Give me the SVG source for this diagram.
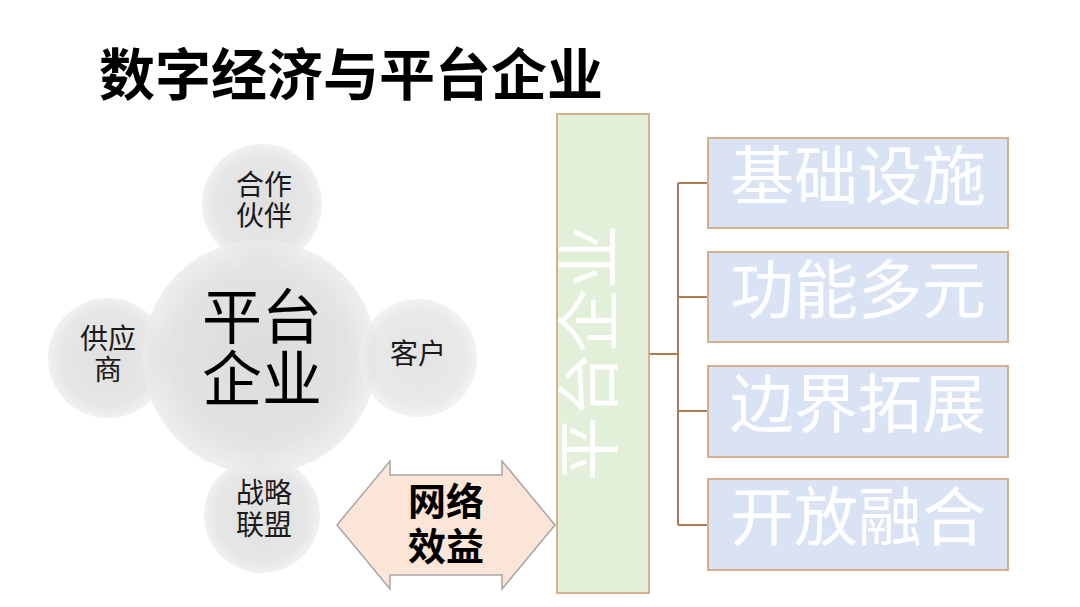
<svg xmlns="http://www.w3.org/2000/svg" width="1080" height="607" viewBox="0 0 1080 607">
<defs>
<radialGradient id="gc" cx="0.5" cy="0.5" r="0.5">
<stop offset="0" stop-color="#d6d6d6"/>
<stop offset="0.75" stop-color="#dedede"/>
<stop offset="1" stop-color="#ececec"/>
</radialGradient>
<radialGradient id="gs" cx="0.5" cy="0.5" r="0.5">
<stop offset="0" stop-color="#dcdcdc"/>
<stop offset="0.8" stop-color="#e4e4e4"/>
<stop offset="1" stop-color="#efefef"/>
</radialGradient>
<style>
.cj{font-family:"Noto Sans CJK SC","Noto Sans CJK JP",sans-serif;text-anchor:middle}
.sm{font-size:28px;fill:#1a1a1a}
.bx{fill:#dae3f3;stroke:#d4b08e;stroke-width:2}
.bt{font-size:64px;fill:#ffffff}
.con{fill:none;stroke:#b07a52;stroke-width:2}
</style>
</defs>
<rect width="1080" height="607" fill="#ffffff"/>
<text x="351" y="95" class="cj" font-size="56" font-weight="bold" fill="#000">数字经济与平台企业</text>

<g id="n-partner"><circle cx="262" cy="204" r="60" fill="url(#gs)" opacity="0.9"/></g>
<g id="n-supplier"><circle cx="108" cy="358" r="60" fill="url(#gs)" opacity="0.9"/></g>
<g id="n-alliance"><circle cx="262" cy="515" r="58" fill="url(#gs)" opacity="0.9"/></g>
<g id="n-platform">
<circle cx="260" cy="357" r="117" fill="url(#gc)" opacity="0.85"/>
<text class="cj" font-size="60" fill="#000"><tspan x="262" y="339">平台</tspan><tspan x="262" y="401">企业</tspan></text>
</g>
<g id="n-customer"><circle cx="418" cy="358" r="59" fill="url(#gs)" opacity="0.8"/></g>
<g id="labels">
<text class="cj sm"><tspan x="264" y="195">合作</tspan><tspan x="264" y="226">伙伴</tspan></text>
<text class="cj sm"><tspan x="108" y="349">供应</tspan><tspan x="108" y="380">商</tspan></text>
<text x="418" y="364" class="cj sm">客户</text>
<text class="cj sm"><tspan x="264" y="503">战略</tspan><tspan x="264" y="535">联盟</tspan></text>
</g>

<g id="n-network">
<polygon points="337,525 390,461 390,475 502,475 502,461 555,525 502,589 502,575 390,575 390,589" fill="#fbe5d6" stroke="#a6a6a6" stroke-width="1.5"/>
<text class="cj" font-size="38" font-weight="bold" fill="#000"><tspan x="446" y="515">网络</tspan><tspan x="446" y="560">效益</tspan></text>
</g>

<g id="connectors">
<path class="con" d="M649,354 H678 M678,183 V525 M678,183 H708 M678,297 H708 M678,411 H708 M678,525 H708"/>
</g>

<g id="n-platform-bar">
<rect x="557" y="114" width="92" height="479" fill="#e2efd9" stroke="#d4b08e" stroke-width="2"/>
<text transform="translate(612,353) rotate(-90)" class="cj" font-size="64" fill="#ffffff">平台企业</text>
</g>
<g id="n-infra"><rect class="bx" x="708" y="138" width="300" height="90"/><text x="858" y="199" class="cj bt">基础设施</text></g>
<g id="n-func"><rect class="bx" x="708" y="252" width="300" height="90"/><text x="858" y="313" class="cj bt">功能多元</text></g>
<g id="n-boundary"><rect class="bx" x="708" y="366" width="300" height="91"/><text x="858" y="427" class="cj bt">边界拓展</text></g>
<g id="n-open"><rect class="bx" x="708" y="479" width="300" height="91"/><text x="858" y="540" class="cj bt">开放融合</text></g>
</svg>
